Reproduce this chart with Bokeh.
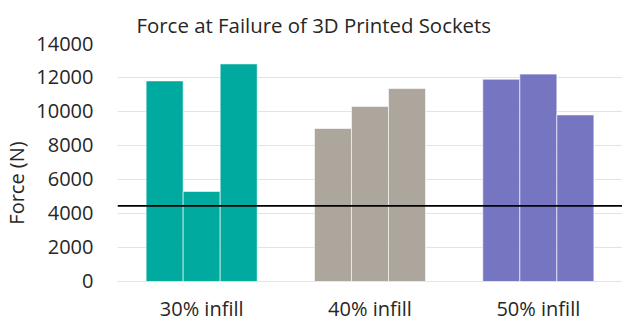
from bokeh.plotting import figure
from bokeh.models import ColumnDataSource, FactorRange, Range1d, Span
from bokeh.transform import dodge
from bokeh.core.properties import value
from bokeh.embed import file_html
from bokeh.resources import INLINE

groups = ["30% infill", "40% infill", "50% infill"]
sample1 = [11800, 9000, 11900]
sample2 = [5300, 10300, 12200]
sample3 = [12800, 11350, 9800]
colors = ["#00AA9E", "#ADA69C", "#7575C1"]
threshold = 4450
y_ticks = [0, 2000, 4000, 6000, 8000, 10000, 12000, 14000]

src = ColumnDataSource(dict(g=groups, s1=sample1, s2=sample2, s3=sample3, c=colors))

FONT = "Open Sans"
TXT = "#262626"

# frame runs to the bottom edge; the band below 0 holds the category labels
Y_BOTTOM = -2412
LABEL_Y = -1600

p = figure(width=622, height=322, x_range=FactorRange(factors=groups),
           y_range=Range1d(Y_BOTTOM, 14000), output_backend="svg", toolbar_location=None,
           min_border_left=117, min_border_right=0, min_border_top=43, min_border_bottom=0,
           title="Force at Failure of 3D Printed Sockets")
p.outline_line_color = None
p.background_fill_color = "white"
p.border_fill_color = "white"

p.title.text_font = FONT
p.title.text_font_size = "20.4px"
p.title.text_font_style = "normal"
p.title.text_color = TXT
p.title.align = "left"
p.title.offset = 19

w = 0.22
for col, off in (("s1", -w), ("s2", 0.0), ("s3", w)):
    p.vbar(x=dodge("g", off, range=p.x_range), top=col, bottom=0, width=w, source=src,
           fill_color="c", line_color="white", line_alpha=0.6, line_width=1)

p.add_layout(Span(location=threshold, dimension="width", line_color="black", line_width=1.6))

p.text(x="g", y=LABEL_Y, text="g", source=src, text_align="center",
       text_baseline="middle", text_font=value(FONT), text_font_size="20px",
       text_color=TXT)

p.xaxis.visible = False
p.xgrid.grid_line_color = None
p.ygrid.grid_line_color = "#e3e3e3"
p.ygrid.grid_line_width = 1
p.yaxis.ticker = y_ticks

ax = p.yaxis[0]
ax.axis_line_color = None
ax.major_tick_line_color = None
ax.minor_tick_line_color = None
ax.major_tick_out = 0
ax.major_tick_in = 0
ax.major_label_text_font = FONT
ax.major_label_text_font_size = "20px"
ax.major_label_text_color = TXT
ax.major_label_standoff = 24
ax.axis_label = "Force (N)"
ax.axis_label_text_font = FONT
ax.axis_label_text_font_size = "20px"
ax.axis_label_text_font_style = "normal"
ax.axis_label_text_color = TXT
ax.axis_label_standoff = 3

open("out.html", "w").write(file_html(p, INLINE))
